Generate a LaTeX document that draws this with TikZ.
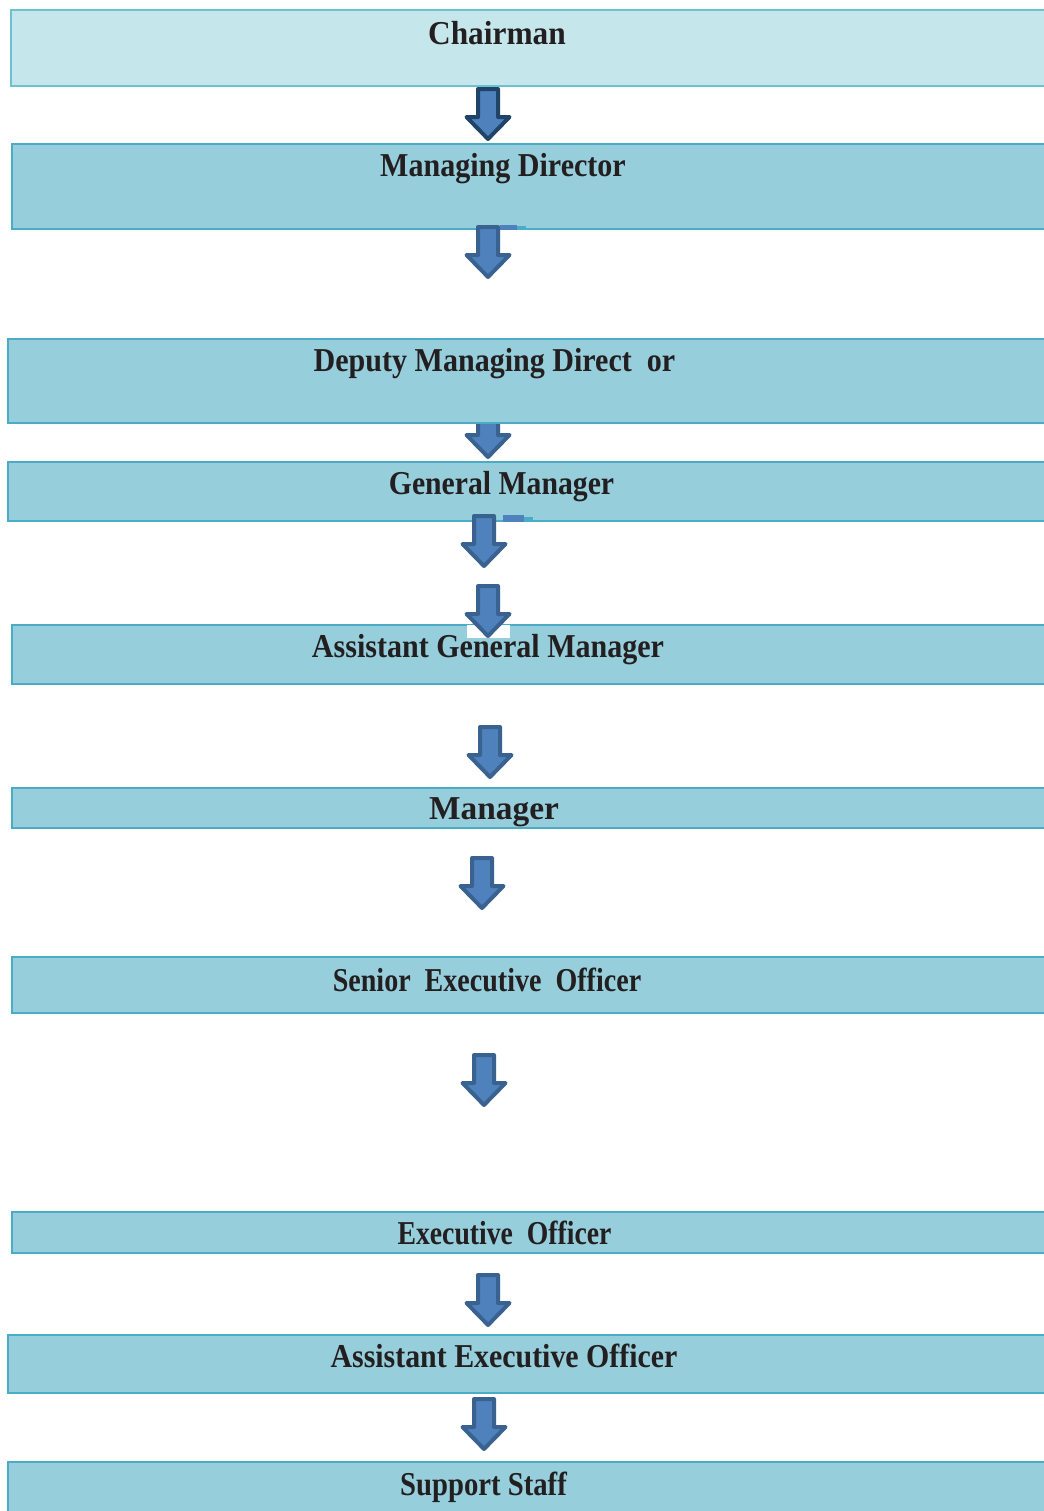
\documentclass[tikz,border=0pt]{standalone}
\usepackage{graphicx}
\usepackage{fontspec}
\setmainfont{Liberation Serif}
\usetikzlibrary{
    positioning,
    arrows.meta
}
\definecolor{boxfill}{HTML}{96CEDB}
\definecolor{chairfill}{HTML}{C5E6EB}
\definecolor{boxline}{HTML}{4BACC6}
\definecolor{chairline}{HTML}{6DC0CF}
\definecolor{arrowfill}{HTML}{4F81BD}
\definecolor{arrowline}{HTML}{3A6290}
\definecolor{arrowdark}{HTML}{1F4468}
\definecolor{labelink}{HTML}{231F20}
\newcommand{\narrowed}[2]{\scalebox{#1}[1]{#2}}
\tikzset{%
    rank box/.style={%
        rectangle,
        draw=boxline,
        fill=boxfill,
        line width=0.04cm,
        inner sep = 0pt,
        outer sep = 0pt,
        anchor=north west,
        minimum width=21cm
    },
    top box/.style={%
        rank box,
        draw=chairline,
        fill=chairfill
    },
    rank label/.style={%
        anchor=base,
        inner sep = 0pt,
        text=labelink,
        font=\bfseries\fontsize{19}{22}\selectfont
    },
    block arrow/.style={%
        draw=arrowline,
        fill=arrowfill,
        line width=0.08cm,
        line join=round
    },
    down arrow/.pic={%
        \path[pic actions] (-10,0) -- (10,0) -- (10,28) -- (21.5,28)
            -- (0,50) -- (-21.5,28) -- (-10,28) -- cycle;
    },
    stub/.style={%
        fill=arrowfill
    },
}

\begin{document}
\begin{tikzpicture}[x=0.02cm, y=-0.02cm]
    \useasboundingbox (0,0) rectangle (1044,1511);
    \clip (0,0) rectangle (1044,1511);

    % arrow hidden behind the deputy box
    \pic[block arrow] (toGM) at (488,407) {down arrow};

    \node[top box, minimum height=1.52cm] (chairman) at (11,10) {};
    \node[rank box, minimum height=1.70cm] (md) at (12,144) {};
    \node[rank box, minimum height=1.68cm] (dmd) at (8,339) {};
    \node[rank box, minimum height=1.18cm] (gm) at (8,462) {};
    \node[rank box, minimum height=1.18cm] (agm) at (12,625) {};
    \node[rank box, minimum height=0.80cm] (manager) at (12,788) {};
    \node[rank box, minimum height=1.12cm] (seo) at (12,957) {};
    \node[rank box, minimum height=0.82cm] (eo) at (12,1212) {};
    \node[rank box, minimum height=1.16cm] (aeo) at (8,1335) {};
    \node[rank box, minimum height=1.20cm] (staff) at (8,1462) {};

    \node[rank label] (chairman label) at (497,44) {\narrowed{0.94}{Chairman}};
    \node[rank label] (md label) at (503,176) {\narrowed{0.90}{Managing Director}};
    \node[rank label] (dmd label) at (494.5,371) {\narrowed{0.90}{Deputy Managing Direct\ \ or}};
    \node[rank label] (gm label) at (501.5,494) {\narrowed{0.89}{General Manager}};
    \node[rank label] (agm label) at (488,657) {\narrowed{0.90}{Assistant General Manager}};
    \node[rank label] (manager label) at (494,819) {Manager};
    \node[rank label] (seo label) at (487,991) {\narrowed{0.84}{Senior\ \ Executive\ \ Officer}};
    \node[rank label] (eo label) at (504.5,1244) {\narrowed{0.83}{Executive\ \ Officer}};
    \node[rank label] (aeo label) at (504,1367) {\narrowed{0.895}{Assistant Executive Officer}};
    \node[rank label] (staff label) at (483.5,1495) {\narrowed{0.86}{Support Staff}};

    % stray bits next to two arrows
    \fill[stub] (500,225) rectangle (517,230);
    \fill[boxline] (517,226) rectangle (526,230);
    \fill[stub] (503,515) rectangle (524,522);
    \fill[boxline] (524,517) rectangle (533,522);

    \pic[block arrow, draw=arrowdark] (toMD) at (488,89) {down arrow};
    \pic[block arrow] (toDMD) at (488,227) {down arrow};
    \pic[block arrow] (fromGM) at (484,516) {down arrow};
    \fill[white] (467,625) rectangle (510,638);
    \pic[block arrow] (toAGM) at (488,586) {down arrow};
    \pic[block arrow] (toManager) at (490,727) {down arrow};
    \pic[block arrow] (toSEO) at (482,858) {down arrow};
    \pic[block arrow] (toEO) at (484,1055) {down arrow};
    \pic[block arrow] (toAEO) at (488,1275) {down arrow};
    \pic[block arrow] (toStaff) at (484,1399) {down arrow};
\end{tikzpicture}
\end{document}
